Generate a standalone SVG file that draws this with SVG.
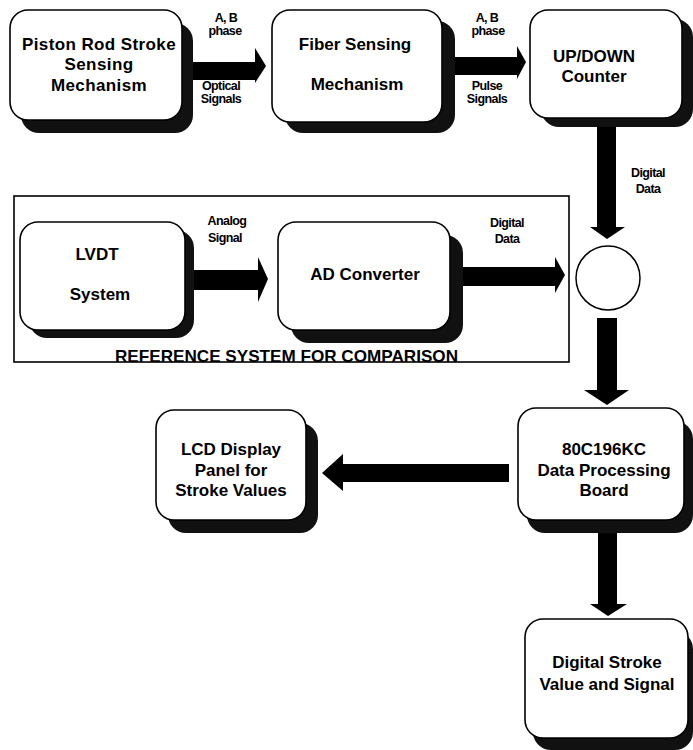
<svg xmlns="http://www.w3.org/2000/svg" width="693" height="750" viewBox="0 0 693 750">
<style>
.box{fill:#fff;stroke:#000;stroke-width:1.6}
.sh{fill:#111;stroke:none}
.t{font-family:"Liberation Sans",Arial,sans-serif;font-weight:bold;font-size:17px;fill:#000;text-anchor:middle}
.s{font-family:"Liberation Sans",Arial,sans-serif;font-weight:bold;font-size:12.5px;letter-spacing:-0.6px;fill:#000;text-anchor:middle}
.ar{fill:#000;stroke:none}
</style>
<rect width="693" height="750" fill="#fff"/>
<g id="reference-frame">
<rect x="14" y="196" width="555" height="166" fill="none" stroke="#000" stroke-width="1.6"/>
<text x="115" y="362" font-family="'Liberation Sans',Arial,sans-serif" font-weight="bold" font-size="16.5" textLength="343" lengthAdjust="spacingAndGlyphs">REFERENCE SYSTEM FOR COMPARISON</text>
</g>
<g id="connectors">
<polygon class="ar" points="193,62 255,62 255,48 266,66 255,83 255,80 193,80"/>
<polygon class="ar" points="455,57 517,57 517,46 526,62 517,79 517,75 455,75"/>
<polygon class="ar" points="194,270 258,270 258,257 268,279 258,302 258,290 194,290"/>
<polygon class="ar" points="463,267 555,267 555,257 565,275 555,293 555,286 463,286"/>
<polygon class="ar" points="597,127 616,127 616,227 625,227 607,239 590,227 597,227"/>
<polygon class="ar" points="597,318 617,318 617,390 629,390 607,405 584,390 597,390"/>
<polygon class="ar" points="509,464 343,464 343,454 322,473 343,491 343,482 509,482"/>
<polygon class="ar" points="598,533 617,533 617,604 627,604 608,616 590,604 598,604"/>
<text class="s" x="226" y="22">A, B</text>
<text class="s" x="225" y="35">phase</text>
<text class="s" x="221" y="90">Optical</text>
<text class="s" x="221" y="103">Signals</text>
<text class="s" x="487" y="22">A, B</text>
<text class="s" x="488" y="35">phase</text>
<text class="s" x="487" y="90">Pulse</text>
<text class="s" x="487" y="103">Signals</text>
<text class="s" x="648" y="177">Digital</text>
<text class="s" x="648" y="193">Data</text>
<text class="s" x="227" y="225">Analog</text>
<text class="s" x="225" y="242">Signal</text>
<text class="s" x="507" y="227">Digital</text>
<text class="s" x="507" y="243">Data</text>
</g>
<g id="junction">
<circle cx="608" cy="278" r="32" fill="#fff" stroke="#000" stroke-width="1.5"/>
</g>
<g id="piston-rod">
<rect class="sh" x="21" y="23" width="172" height="110" rx="18"/>
<rect class="box" x="10" y="10" width="172" height="110" rx="18"/>
<text class="t" x="99" y="50" letter-spacing="0.4">Piston Rod Stroke</text>
<text class="t" x="99" y="70" letter-spacing="0.4">Sensing</text>
<text class="t" x="99" y="91" letter-spacing="0.4">Mechanism</text>
</g>
<g id="fiber-sensing">
<rect class="sh" x="285" y="21" width="170" height="112" rx="18"/>
<rect class="box" x="272" y="10" width="170" height="112" rx="18"/>
<text class="t" x="355" y="50">Fiber Sensing</text>
<text class="t" x="357" y="90">Mechanism</text>
</g>
<g id="updown-counter">
<rect class="sh" x="541" y="19" width="152" height="108" rx="18"/>
<rect class="box" x="530" y="10" width="152" height="108" rx="18"/>
<text class="t" x="594" y="62">UP/DOWN</text>
<text class="t" x="594" y="82">Counter</text>
</g>
<g id="lvdt">
<rect class="sh" x="29" y="230" width="165" height="108" rx="18"/>
<rect class="box" x="20" y="222" width="165" height="108" rx="18"/>
<text class="t" x="97" y="260">LVDT</text>
<text class="t" x="100" y="300">System</text>
</g>
<g id="ad-converter">
<rect class="sh" x="291" y="235" width="172" height="108" rx="18"/>
<rect class="box" x="278" y="222" width="172" height="108" rx="18"/>
<text class="t" x="365" y="280">AD Converter</text>
</g>
<g id="lcd-display">
<rect class="sh" x="168" y="423" width="150" height="110" rx="18"/>
<rect class="box" x="156" y="410" width="150" height="110" rx="18"/>
<text class="t" x="231" y="455">LCD Display</text>
<text class="t" x="231" y="476">Panel for</text>
<text class="t" x="231" y="496">Stroke Values</text>
</g>
<g id="processing-board">
<rect class="sh" x="527" y="421" width="166" height="112" rx="18"/>
<rect class="box" x="518" y="408" width="166" height="112" rx="18"/>
<text class="t" x="604" y="455">80C196KC</text>
<text class="t" x="604" y="476">Data Processing</text>
<text class="t" x="604" y="496">Board</text>
</g>
<g id="digital-stroke">
<rect class="sh" x="533" y="631" width="160" height="119" rx="18"/>
<rect class="box" x="525" y="619" width="163" height="119" rx="18"/>
<text class="t" x="607" y="668">Digital Stroke</text>
<text class="t" x="607" y="690">Value and Signal</text>
</g>
</svg>
